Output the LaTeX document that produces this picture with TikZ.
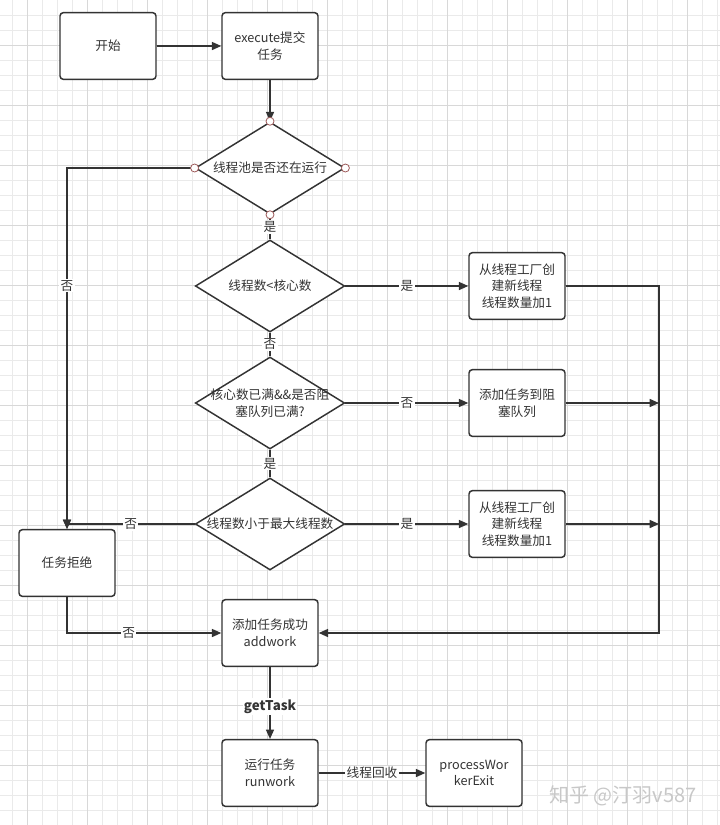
\documentclass[tikz,border=0pt]{standalone}
\usepackage{fontspec}
\setmainfont{Noto Sans CJK SC}
\usetikzlibrary{arrows.meta, positioning, shapes.geometric}
\definecolor{flline}{HTML}{333333}
\definecolor{fltext}{HTML}{333333}
\definecolor{flgrid}{HTML}{EAEAEA}
\definecolor{flmajor}{HTML}{D8D8D8}
\definecolor{flport}{HTML}{9E5A5A}
\definecolor{flmark}{HTML}{C8C8C8}

\begin{document}
\begin{tikzpicture}[x=0.75pt, y=-0.75pt,
  txt/.style={font=\fontsize{9.5}{12.5}\selectfont, text=fltext},
  procbox/.style={txt, draw=flline, line width=1.1pt, rounded corners=2.5pt, fill=white, minimum width=72pt, minimum height=50pt, align=center},
  decide/.style={diamond, draw=flline, line width=1.1pt, fill=white, minimum width=112pt, minimum height=69pt, inner sep=0pt},
  dtext/.style={txt, align=center},
  flow/.style={draw=flline, line width=1.1pt, -{Triangle[length=7pt, width=6pt]}},
  link/.style={draw=flline, line width=1.1pt},
  elabel/.style={txt, fill=white, inner sep=1pt},
  port/.style={circle, draw=flport, fill=white, line width=0.6pt, inner sep=0pt, minimum size=6pt},
]
  % Canvas and grid
  \fill[white] (0,0) rectangle (720,825);
  \useasboundingbox (0,0) rectangle (720,825);
  \foreach \gx in {12,27,...,717} \draw[flgrid, line width=0.75pt] (\gx,0) -- (\gx,825);
  \foreach \gy in {15,30,...,825} \draw[flgrid, line width=0.75pt] (0,\gy) -- (720,\gy);
  \foreach \gx in {27,87,...,687} \draw[flmajor, line width=0.75pt] (\gx,0) -- (\gx,825);
  \foreach \gy in {45,105,...,825} \draw[flmajor, line width=0.75pt] (0,\gy) -- (720,\gy);

  % Boxes
  \node[procbox] (start) at (108,46) {开始};
  \node[procbox] (submit) at (270,46) {execute提交\\任务};
  \node[procbox] (newone) at (517,286) {从线程工厂创\\建新线程\\线程数量加1};
  \node[procbox] (queue) at (517,403) {添加任务到阻\\塞队列};
  \node[procbox] (newtwo) at (517,524) {从线程工厂创\\建新线程\\线程数量加1};
  \node[procbox] (reject) at (67,563) {任务拒绝};
  \node[procbox] (addwork) at (270,633) {添加任务成功\\addwork};
  \node[procbox] (runwork) at (270,773) {运行任务\\runwork};
  \node[procbox] (exitw) at (474,773) {processWor\\kerExit};

  % Decisions
  \node[decide, label={[dtext]center:线程池是否还在运行}] (alive) at (270,168) {};
  \node[decide, label={[dtext]center:线程数<核心数}] (core) at (270,286) {};
  \node[decide, label={[dtext]center:核心数已满\&\&是否阻\\塞队列已满?}] (full) at (270,403) {};
  \node[decide, label={[dtext]center:线程数小于最大线程数}] (maxth) at (270,524) {};

  \coordinate (rail) at (659,0);

  % Connectors
  \draw[flow] (start) -- (submit);
  \draw[flow] (submit) -- (alive.north);
  \draw[link] (alive.south) -- node[elabel] {是} (core.north);
  \draw[link] (core.south) -- node[elabel] {否} (full.north);
  \draw[link] (full.south) -- node[elabel] {是} (maxth.north);
  \draw[flow] (alive.west) -| node[elabel, pos=0.663] {否} (reject.north);
  \draw[flow] (maxth.west) -| node[elabel, pos=0.25] {否} (reject.north);
  \draw[flow] (core.east) -- node[elabel] {是} (newone.west);
  \draw[flow] (full.east) -- node[elabel] {否} (queue.west);
  \draw[flow] (maxth.east) -- node[elabel] {是} (newtwo.west);
  \draw[flow] (queue.east) -- (queue.east -| rail);
  \draw[flow] (newtwo.east) -- (newtwo.east -| rail);
  \draw[flow] (newone.east) -- (newone.east -| rail) -- (rail |- addwork.east) -- (addwork.east);
  \draw[flow] (reject.south) |- node[elabel, pos=0.7] {否} (addwork.west);
  \draw[flow] (addwork) -- node[elabel, pos=0.55, font=\fontsize{10}{12}\selectfont\bfseries] {getTask} (runwork);
  \draw[flow] (runwork) -- node[elabel] {线程回收} (exitw);

  % Ports on the first decision
  \foreach \a in {north,south,east,west} \node[port] (port-\a) at (alive.\a) {};

  % Watermark
  \node[font=\fontsize{15}{18}\selectfont, text=flmark] (mark) at (623,796) {知乎 @汀羽v587};
\end{tikzpicture}
\end{document}
